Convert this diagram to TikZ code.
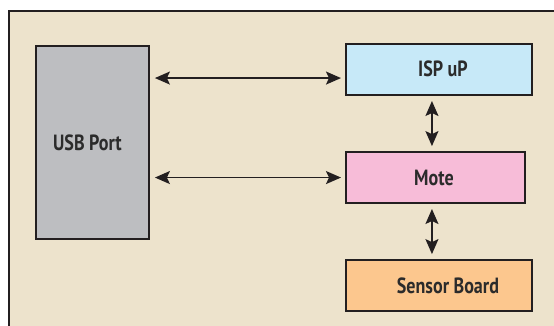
\documentclass[tikz,border=0pt]{standalone}
\usepackage{fontspec}
\setmainfont[FakeStretch=0.82]{PT Sans}
\usetikzlibrary{arrows.meta,calc}
\definecolor{bgbeige}{HTML}{EDE3CC}
\definecolor{usbgray}{HTML}{BDBEC1}
\definecolor{ispblue}{HTML}{C7E9F8}
\definecolor{motepink}{HTML}{F7BCD8}
\definecolor{sensororange}{HTML}{FCC78E}
\definecolor{ink}{HTML}{231F20}
\definecolor{txt}{HTML}{2B2B2B}
\tikzset{
  blockbox/.style={draw=ink, line width=1.9pt, inner sep=0pt, anchor=south west},
  blocktext/.style={text=txt, font=\fontsize{22}{24}\selectfont\bfseries, inner sep=0pt},
  link/.style={draw=ink, line width=1.5pt, {Stealth[length=15pt,width=13pt,inset=3pt]}-{Stealth[length=15pt,width=13pt,inset=3pt]}},
}
\begin{document}
\begin{tikzpicture}[x=1pt,y=1pt]
\useasboundingbox (0,0) rectangle (554,325);
\clip (0,0) rectangle (554,325);
\fill[white] (0,0) rectangle (554,325);
\draw[draw=ink, line width=2pt, fill=bgbeige] (8.5,-10) rectangle (570,314);
% blocks
\node[blockbox, fill=usbgray, minimum width=113pt, minimum height=193pt] (usb) at (35,85) {};
\node[blockbox, fill=ispblue, minimum width=186pt, minimum height=51pt] (isp) at (345,229) {};
\node[blockbox, fill=motepink, minimum width=179pt, minimum height=51pt] (mote) at (345,121) {};
\node[blockbox, fill=sensororange, minimum width=186pt, minimum height=51pt] (sensor) at (345,13) {};
% labels
\node[blocktext] (usbt) at ([xshift=-5pt]usb.center) {USB Port};
\node[blocktext] (ispt) at ([xshift=4pt,yshift=0.5pt]isp.center) {ISP uP};
\node[blocktext] (motet) at ([xshift=-1.5pt,yshift=-0.5pt]mote.center) {Mote};
\node[blocktext] (sensort) at ([xshift=9pt,yshift=0pt]sensor.center) {Sensor Board};
% connectors
\coordinate (a1r) at ([yshift=-8.5pt]isp.west);
\draw[link, shorten <=5pt, shorten >=4pt] (usb.east |- a1r) -- (a1r);
\draw[link, shorten <=5pt, shorten >=4pt] (usb.east |- mote.west) -- (mote.west);
\coordinate (v1) at ([xshift=-7pt]isp.south);
\draw[link, shorten <=5pt, shorten >=5pt] (v1) -- (v1 |- mote.north);
\draw[link, shorten <=5pt, shorten >=5pt] (v1 |- mote.south) -- (v1 |- sensor.north);
\end{tikzpicture}
\end{document}
